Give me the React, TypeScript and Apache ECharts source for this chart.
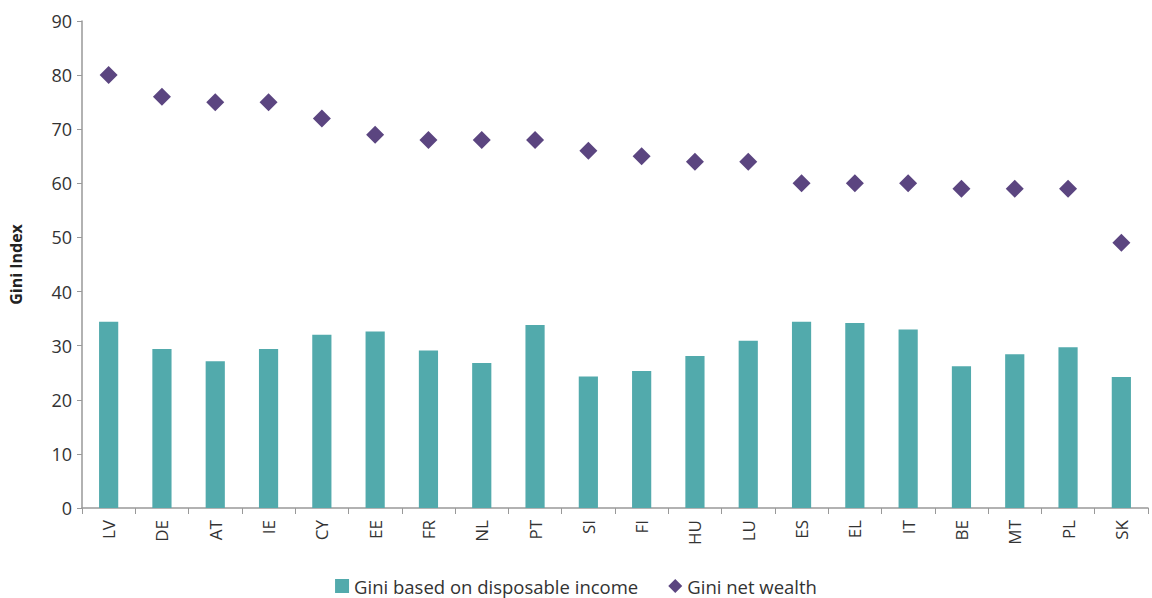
import React, { useEffect, useRef } from "react";
import * as echarts from "echarts";

const categories = ["LV", "DE", "AT", "IE", "CY", "EE", "FR", "NL", "PT", "SI", "FI", "HU", "LU", "ES", "EL", "IT", "BE", "MT", "PL", "SK"];
const incomeGini = [34.4, 29.4, 27.1, 29.4, 32.0, 32.6, 29.1, 26.8, 33.8, 24.3, 25.3, 28.1, 30.9, 34.4, 34.2, 33.0, 26.2, 28.4, 29.7, 24.2];
const wealthGini = [80, 76, 75, 75, 72, 69, 68, 68, 68, 66, 65, 64, 64, 60, 60, 60, 59, 59, 59, 49];

const FONT = "'Open Sans', 'Noto Sans', sans-serif";

export default function App() {
  const ref = useRef<HTMLDivElement>(null);
  useEffect(() => {
    if (!ref.current) return;
    const chart = echarts.init(ref.current, undefined, { renderer: "svg" });
    chart.setOption({
      animation: false,
      textStyle: { fontFamily: FONT },
      grid: { left: 82, right: 4, top: 21, bottom: 90 },
      legend: {
        top: 575,
        left: "center",
        itemGap: 30,
        itemWidth: 14,
        itemHeight: 14,
        padding: 0,
        textStyle: { fontSize: 18.5, lineHeight: 22, color: "#333", fontFamily: FONT },
        data: [
          { name: "Gini based on disposable income", icon: "rect" },
          { name: "Gini net wealth", icon: "diamond" },
        ],
      },
      xAxis: {
        type: "category",
        data: categories,
        axisLine: { lineStyle: { color: "#999", width: 1.5 } },
        axisTick: { show: true, alignWithLabel: false, length: 6, lineStyle: { color: "#999" } },
        axisLabel: { rotate: 90, fontSize: 17, color: "#333", margin: 12, fontFamily: FONT },
      },
      yAxis: {
        type: "value",
        min: 0,
        max: 90,
        interval: 10,
        name: "Gini Index",
        nameLocation: "middle",
        nameGap: 58,
        nameTextStyle: { fontSize: 16, fontWeight: "bold", color: "#222", fontFamily: FONT },
        splitLine: { show: false },
        axisLine: { show: true, lineStyle: { color: "#999", width: 1.5 } },
        axisTick: { show: true, length: 5, lineStyle: { color: "#999" } },
        axisLabel: { fontSize: 18, color: "#333", margin: 10, fontFamily: FONT },
      },
      series: [
        {
          name: "Gini based on disposable income",
          type: "bar",
          data: incomeGini,
          barWidth: "36%",
          itemStyle: { color: "#52AAAC" },
        },
        {
          name: "Gini net wealth",
          type: "scatter",
          data: wealthGini,
          symbol: "diamond",
          symbolSize: 18,
          itemStyle: { color: "#5B4580", opacity: 1 },
        },
      ],
    });
    return () => chart.dispose();
  }, []);
  return (
    <div
      ref={ref}
      style={{ position: "fixed", left: 0, top: 0, width: 1152, height: 598, background: "#fff" }}
    />
  );
}
